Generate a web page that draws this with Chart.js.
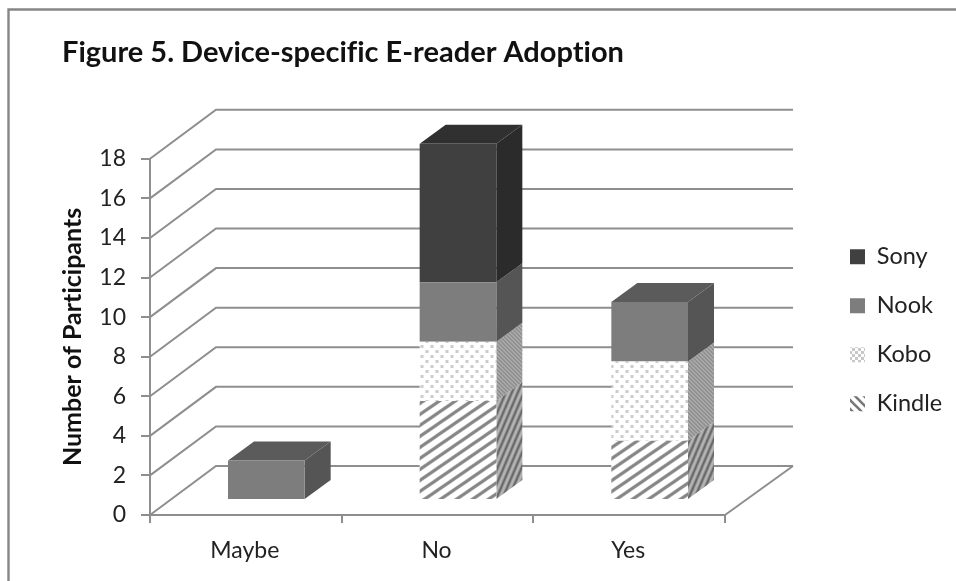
<!DOCTYPE html>
<html>
<head>
<meta charset="utf-8">
<title>Device-specific E-reader Adoption</title>
<script src="https://cdn.jsdelivr.net/npm/chart.js@4"></script>
<style>
    html, body { margin: 0; padding: 0; background: #fff; overflow: hidden; }
    canvas { display: block; }
</style>
</head>
<body>
<canvas id="chartAdoption" width="956" height="581"></canvas>
<script>
const categories = ['Maybe', 'No', 'Yes'];
const kindleValues = [0, 5, 3];
const koboValues = [0, 3, 4];
const nookValues = [2, 3, 3];
const sonyValues = [0, 7, 0];

const fontName = 'Lato, "Noto Sans", sans-serif';
const lineGrey = '#8e8e8e';

// repeating fill made from a small tile
function makeTile(w, h, paint) {
    const tile = document.createElement('canvas');
    tile.width = w;
    tile.height = h;
    paint(tile.getContext('2d'), w, h);
    return document.querySelector('#chartAdoption').getContext('2d').createPattern(tile, 'repeat');
}

function stripes(w, h, back, ink, width, falling) {
    return makeTile(w, h, (c) => {
        c.fillStyle = back;
        c.fillRect(0, 0, w, h);
        c.strokeStyle = ink;
        c.lineWidth = width;
        // run each line well past the tile so the joins stay unbroken
        for (let i = -1; i <= 1; i++) {
            c.beginPath();
            if (falling) {
                c.moveTo((i - 1) * w, -h);
                c.lineTo((i + 2) * w, 2 * h);
            } else {
                c.moveTo((i - 1) * w, 2 * h);
                c.lineTo((i + 2) * w, -h);
            }
            c.stroke();
        }
    });
}

function dots(size, back, ink) {
    return makeTile(size, size, (c) => {
        c.fillStyle = back;
        c.fillRect(0, 0, size, size);
        c.fillStyle = ink;
        c.fillRect(0, 0, 3, 3);
        c.fillRect(size / 2, size / 2, 3, 3);
    });
}

const kindleFront = stripes(16, 11, '#ffffff', '#868686', 3.2, false);
const kindleSide = stripes(6, 14, '#b4b4b4', '#666666', 2.4, false);
const kindleKey = stripes(9, 9, '#ffffff', '#777777', 2.6, true);
const koboFront = dots(10, '#ffffff', '#cccccc');
const koboSide = stripes(4, 4, '#b4b4b4', '#868686', 1.4, true);
const koboKey = dots(6, '#ffffff', '#c8c8c8');

// side and top colours per dataset, in dataset order
const sideFills = [kindleSide, koboSide, '#555555', '#2b2b2b'];
const topFills = [kindleSide, koboSide, '#5b5b5b', '#303030'];

// how far the bars stand in front of the axis plane, and how deep they are
const wallDepth = { x: 66, y: -49 };
const barShift = { x: 20.5, y: -15 };
const barDepth = { x: 26, y: -19 };

const shape3d = {
    id: 'shape3d',
    beforeDraw(chart) {
        // plain glyphs, no fi / ti ligatures
        chart.ctx.textRendering = 'optimizeSpeed';
    },
    beforeDatasetsDraw(chart) {
        const ctx = chart.ctx;
        const yScale = chart.scales.y;
        const area = chart.chartArea;

        // outer frame
        ctx.save();
        ctx.strokeStyle = '#868686';
        ctx.lineWidth = 2.4;
        ctx.beginPath();
        ctx.moveTo(8.5, 581);
        ctx.lineTo(8.5, 9.5);
        ctx.lineTo(956, 9.5);
        ctx.stroke();

        // side wall and back wall lines
        ctx.strokeStyle = lineGrey;
        ctx.lineWidth = 2;
        yScale.ticks.forEach((tick) => {
            const y = yScale.getPixelForValue(tick.value);
            ctx.beginPath();
            ctx.moveTo(area.left, y);
            ctx.lineTo(area.left + wallDepth.x, y + wallDepth.y);
            ctx.lineTo(area.right + wallDepth.x + 2, y + wallDepth.y);
            ctx.stroke();
        });
        // right edge of the floor
        ctx.beginPath();
        ctx.moveTo(area.right, area.bottom);
        ctx.lineTo(area.right + wallDepth.x + 2, area.bottom + wallDepth.y);
        ctx.stroke();
        ctx.restore();

        // the bars sit further back than the axes
        ctx.save();
        ctx.translate(barShift.x, barShift.y);

        categories.forEach((name, col) => {
            let topIndex = -1;
            chart.data.datasets.forEach((set, i) => {
                if (set.data[col] > 0) topIndex = i;
            });
            chart.data.datasets.forEach((set, i) => {
                if (!(set.data[col] > 0)) return;
                const bar = chart.getDatasetMeta(i).data[col];
                const right = bar.x + bar.width / 2;
                const left = bar.x - bar.width / 2;
                ctx.fillStyle = sideFills[i];
                ctx.beginPath();
                ctx.moveTo(right, bar.base);
                ctx.lineTo(right + barDepth.x, bar.base + barDepth.y);
                ctx.lineTo(right + barDepth.x, bar.y + barDepth.y);
                ctx.lineTo(right, bar.y);
                ctx.closePath();
                ctx.fill();
                if (i === topIndex) {
                    ctx.fillStyle = topFills[i];
                    ctx.beginPath();
                    ctx.moveTo(left, bar.y);
                    ctx.lineTo(left + barDepth.x, bar.y + barDepth.y);
                    ctx.lineTo(right + barDepth.x, bar.y + barDepth.y);
                    ctx.lineTo(right, bar.y);
                    ctx.closePath();
                    ctx.fill();
                }
            });
        });
    },
    afterDatasetsDraw(chart) {
        chart.ctx.restore();
    },
    afterLayout(chart) {
        // legend lives out in the right margin
        const legend = chart.legend;
        legend.left = 850 - legend.options.labels.padding;
        legend.right = 956;
        legend.top = 245 - legend.options.labels.padding;
        legend.bottom = 520;
        chart.titleBlock.left = 62;
    }
};

const myChart = new Chart(document.querySelector('#chartAdoption').getContext('2d'), {
    type: 'bar',
    plugins: [shape3d],
    data: {
        labels: categories,
        datasets: [
            { label: 'Kindle', data: kindleValues, backgroundColor: kindleFront },
            { label: 'Kobo', data: koboValues, backgroundColor: koboFront },
            { label: 'Nook', data: nookValues, backgroundColor: '#7d7d7d' },
            { label: 'Sony', data: sonyValues, backgroundColor: '#404040' }
        ]
    },
    options: {
        responsive: false,
        animation: false,
        categoryPercentage: 0.4,
        barPercentage: 1,
        layout: {
            padding: { left: 60, right: 231, top: 35, bottom: 16 }
        },
        scales: {
            x: {
                stacked: true,
                border: { color: lineGrey, width: 2 },
                grid: { drawOnChartArea: false, color: lineGrey, lineWidth: 2, tickLength: 8 },
                ticks: { color: '#222', font: { family: fontName, size: 23 }, padding: 14, labelOffset: -1, maxRotation: 0 },
                afterFit(scale) {
                    scale.height = 50;
                }
            },
            y: {
                stacked: true,
                min: 0,
                max: 18,
                border: { color: lineGrey, width: 2 },
                grid: { drawOnChartArea: false, color: lineGrey, lineWidth: 2, tickLength: 9 },
                ticks: { stepSize: 2, color: '#222', font: { family: fontName, size: 23 }, padding: 15 },
                title: {
                    display: true,
                    text: 'Number of Participants',
                    color: '#111',
                    font: { family: fontName, size: 25, weight: 'bold', lineHeight: 1 },
                    padding: 0
                },
                afterFit(scale) {
                    scale.width = 90;
                }
            }
        },
        plugins: {
            tooltip: { enabled: false },
            title: {
                display: true,
                align: 'start',
                text: 'Figure 5. Device-specific E-reader Adoption',
                color: '#111',
                font: { family: fontName, size: 29, weight: 'bold' },
                padding: { top: 0, bottom: 89 }
            },
            legend: {
                position: 'chartArea',
                align: 'start',
                reverse: true,
                labels: {
                    boxWidth: 15,
                    boxHeight: 15,
                    padding: 25.5,
                    color: '#222',
                    font: { family: fontName, size: 23.5 },
                    generateLabels(chart) {
                        const keyFills = [kindleKey, koboKey, '#7d7d7d', '#404040'];
                        return chart.data.datasets.map((set, i) => ({
                            text: set.label,
                            fillStyle: keyFills[i],
                            strokeStyle: 'rgba(0,0,0,0)',
                            lineWidth: 0,
                            datasetIndex: i,
                            fontColor: '#222'
                        }));
                    }
                }
            }
        }
    }
});
</script>
</body>
</html>
